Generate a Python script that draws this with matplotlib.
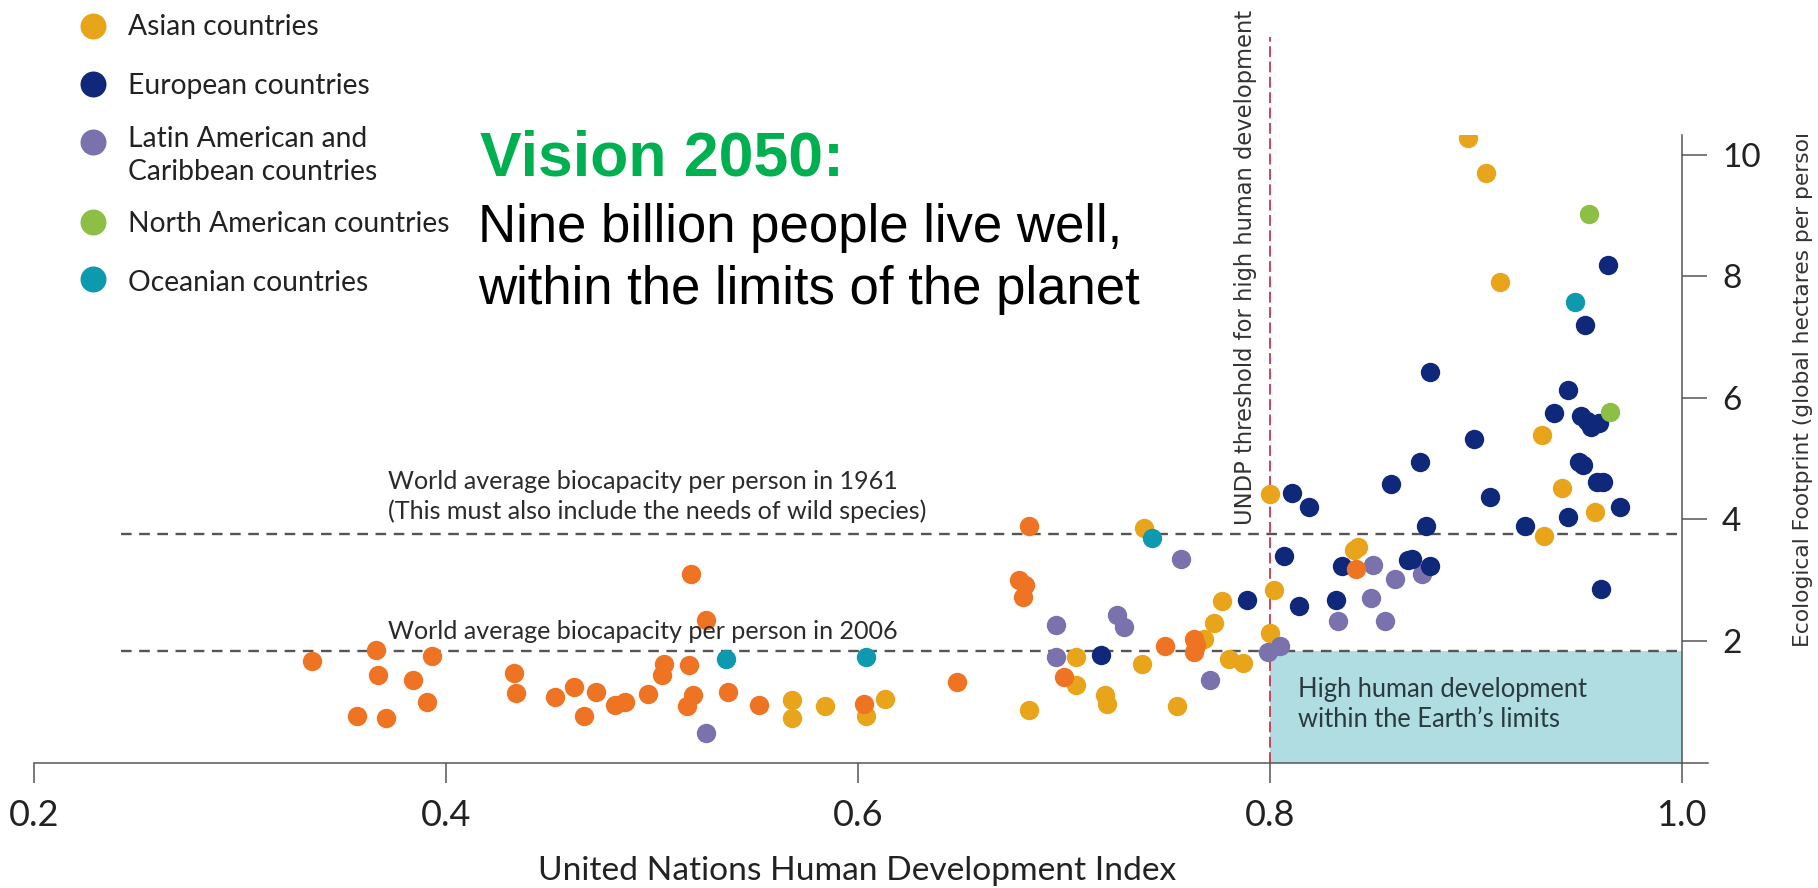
import matplotlib.pyplot as plt
from matplotlib.transforms import Bbox, TransformedBbox

W, H = 1818, 888

# Human Development Index (x) and Ecological Footprint in gha per person (y)
african_hdi = [0.335, 0.357, 0.371, 0.366, 0.367, 0.384, 0.393, 0.391,
               0.433, 0.434, 0.453, 0.462, 0.467, 0.473, 0.482, 0.487,
               0.498, 0.506, 0.505, 0.519, 0.526, 0.518, 0.520, 0.517,
               0.537, 0.552, 0.603, 0.648, 0.683, 0.678, 0.681, 0.680,
               0.700, 0.749, 0.763, 0.764, 0.763, 0.842]
african_fp = [1.67, 0.76, 0.74, 1.85, 1.44, 1.36, 1.75, 0.99,
              1.47, 1.15, 1.08, 1.25, 0.76, 1.16, 0.95, 1.00,
              1.13, 1.62, 1.44, 3.10, 2.34, 1.60, 1.11, 0.93,
              1.16, 0.95, 0.97, 1.33, 3.89, 3.00, 2.92, 2.73,
              1.40, 1.92, 2.03, 1.93, 1.82, 3.18]

asian_hdi = [0.568, 0.568, 0.584, 0.604, 0.613, 0.683, 0.706, 0.706, 0.720, 0.721,
             0.738, 0.739, 0.800, 0.841, 0.843, 0.802, 0.777, 0.773, 0.800, 0.768,
             0.780, 0.787, 0.755, 0.896, 0.905, 0.912, 0.932, 0.942, 0.958, 0.933]
asian_fp = [1.03, 0.74, 0.93, 0.76, 1.04, 0.86, 1.27, 1.73, 1.11, 0.97,
            1.62, 3.85, 4.42, 3.50, 3.55, 2.83, 2.66, 2.29, 2.13, 2.03,
            1.71, 1.64, 0.93, 10.27, 9.69, 7.91, 5.38, 4.51, 4.12, 3.73]

euro_hdi = [0.718, 0.811, 0.819, 0.859, 0.807, 0.835, 0.789, 0.814,
            0.832, 0.867, 0.869, 0.878, 0.876, 0.924, 0.945, 0.970,
            0.907, 0.959, 0.962, 0.950, 0.952, 0.873, 0.899, 0.938,
            0.951, 0.954, 0.956, 0.960, 0.945, 0.878, 0.953, 0.964, 0.961]
euro_fp = [1.76, 4.44, 4.21, 4.58, 3.40, 3.23, 2.67, 2.57,
           2.68, 3.33, 3.34, 3.23, 3.89, 3.89, 4.03, 4.21,
           4.37, 4.62, 4.62, 4.95, 4.89, 4.95, 5.32, 5.75,
           5.70, 5.61, 5.52, 5.58, 6.13, 6.42, 7.20, 8.19, 2.85]

latin_hdi = [0.526, 0.696, 0.696, 0.726, 0.729, 0.757, 0.850, 0.861,
             0.874, 0.849, 0.833, 0.856, 0.799, 0.805, 0.771]
latin_fp = [0.49, 2.26, 1.73, 2.43, 2.23, 3.35, 3.25, 3.01,
            3.10, 2.70, 2.33, 2.33, 1.82, 1.92, 1.35]

namerica_hdi = [0.955, 0.965]
namerica_fp = [9.02, 5.77]

oceania_hdi = [0.536, 0.604, 0.743, 0.948]
oceania_fp = [1.71, 1.74, 3.69, 7.58]

bio_1961 = 3.76
bio_2006 = 1.83
undp_threshold = 0.8

x_ticks = [0.2, 0.4, 0.6, 0.8, 1.0]
y_ticks = [2, 4, 6, 8, 10]

legend_labels = ['Asian countries', 'European countries',
                 'Latin American and\nCaribbean countries',
                 'North American countries', 'Oceanian countries']

c_asia = '#E8A51B'
c_euro = '#10287A'
c_latin = '#7A72AC'
c_namer = '#8DBE45'
c_ocean = '#0E9AAE'
c_africa = '#EE7424'
legend_colors = [c_asia, c_euro, c_latin, c_namer, c_ocean]

plt.rcParams['font.family'] = ['Lato', 'DejaVu Sans']


def px(x, y):
    # pixel position (origin top-left) -> figure fraction
    return x / W, 1 - y / H


fig = plt.figure(figsize=(W / 100, H / 100), dpi=100)
ax = fig.add_axes([34.1 / W, 1 - 762.5 / H, 1674.4 / W, 627.44 / H])
renderer = fig.canvas.get_renderer()


def fit(texts, target, vertical=False):
    bb = texts[0].get_window_extent(renderer)
    size = texts[0].get_fontsize() * target / (bb.height if vertical else bb.width)
    for t in texts:
        t.set_fontsize(size)


# shaded box and reference lines
ax.fill_between([undp_threshold, 1.0], 0, bio_2006, color='#B0DDE2', lw=0, zorder=1)
ax.plot([0.242, 1.0], [bio_1961, bio_1961], color='#555555', lw=1.7,
        ls=(0, (4.5, 3.2)), zorder=2)
ax.plot([0.242, 1.0], [bio_2006, bio_2006], color='#555555', lw=1.7,
        ls=(0, (4.5, 3.2)), zorder=2)
ax.plot([undp_threshold, undp_threshold], [0, 11.93], color='#C8364F', lw=1.3,
        ls=(0, (6, 2.5)), zorder=2, clip_on=False)

# countries
dot = 195
ax.scatter(asian_hdi, asian_fp, s=dot, color=c_asia, lw=0, zorder=3)
ax.scatter(latin_hdi, latin_fp, s=dot, color=c_latin, lw=0, zorder=3)
ax.scatter(euro_hdi, euro_fp, s=dot, color=c_euro, lw=0, zorder=3)
ax.scatter(namerica_hdi, namerica_fp, s=dot, color=c_namer, lw=0, zorder=3)
ax.scatter(oceania_hdi, oceania_fp, s=dot, color=c_ocean, lw=0, zorder=3)
ax.scatter(african_hdi, african_fp, s=dot, color=c_africa, lw=0, zorder=3)

# axes
ax.set_xlim(0.2, 1.013)
ax.set_ylim(0, 10.32)
ax.spines['top'].set_visible(False)
ax.spines['left'].set_visible(False)
ax.spines['right'].set_position(('data', 1.0))
for s in ['bottom', 'right']:
    ax.spines[s].set_color('#555555')
    ax.spines[s].set_linewidth(1.1)
ax.yaxis.tick_right()
ax.set_xticks(x_ticks)
ax.set_xticklabels(['%.1f' % v for v in x_ticks])
ax.set_yticks(y_ticks)
ax.set_yticklabels([str(v) for v in y_ticks])
ax.tick_params(axis='x', length=14.4, width=1.1, color='#555555', pad=12,
               labelsize=26, labelcolor='#222222')
ax.tick_params(axis='y', length=18, width=1.1, color='#555555', pad=11,
               labelsize=24, labelcolor='#222222')
ax.patch.set_alpha(0)

# line annotations
t1 = fig.text(*px(388, 489), 'World average biocapacity per person in 1961',
              va='baseline', color='#2b2b2b', fontsize=18)
t2 = fig.text(*px(388, 519), '(This must also include the needs of wild species)',
              va='baseline', color='#2b2b2b', fontsize=18)
t3 = fig.text(*px(388, 639), 'World average biocapacity per person in 2006',
              va='baseline', color='#2b2b2b', fontsize=18)
fit([t1, t2, t3], 509)

b1 = fig.text(*px(1298, 696.7), 'High human development',
              va='baseline', color='#2a3a40', fontsize=16)
b2 = fig.text(*px(1298, 727.3), 'within the Earth\u2019s limits',
              va='baseline', color='#2a3a40', fontsize=16)
fit([b1, b2], 291)

xl = fig.text(*px(857, 880), 'United Nations Human Development Index',
              ha='center', va='baseline', color='#222222', fontsize=22)
fit([xl], 635)

undp = fig.text(*px(1257, 525), 'UNDP threshold for high human development',
                rotation=90, ha='right', va='bottom', family='DejaVu Sans',
                color='#333333', fontsize=15)
fit([undp], 516, vertical=True)

yl = fig.text(*px(1803, 647), 'Ecological Footprint (global hectares per perso',
              rotation=90, ha='center', va='bottom', family='DejaVu Sans',
              color='#333333', fontsize=14)
fit([yl], 512, vertical=True)
yl.set_text('Ecological Footprint (global hectares per person)')
yl.set_clip_box(TransformedBbox(Bbox([[0.9, 0], [1, 1 - 135 / H]]), fig.transFigure))
yl.set_clip_on(True)

# legend (one text per line so multi-line labels keep their first baseline)
dot_y = [26, 84.3, 142.3, 221.7, 279.3]
text_y = [35, 94.3, 146.7, 232.3, 290.7]
leg_texts = []
for lab, col, dy, ty in zip(legend_labels, legend_colors, dot_y, text_y):
    ax.scatter(*px(92.7, dy), s=350, color=col, lw=0, transform=fig.transFigure,
               clip_on=False)
    for i, line in enumerate(lab.split('\n')):
        leg_texts.append(fig.text(*px(128.3, ty + 33.3 * i), line, va='baseline',
                                  color='#222222', fontsize=20))
north = [t for t in leg_texts if t.get_text() == 'North American countries']
fit(north, 322)
for t in leg_texts:
    t.set_fontsize(north[0].get_fontsize())

# title
fig.text(*px(480, 175), 'Vision 2050:', va='baseline', color='#00B050',
         family='Liberation Sans', weight='bold', fontsize=45)
fig.text(*px(478, 241.7), 'Nine billion people live well,', va='baseline',
         color='black', family='Liberation Sans', fontsize=38)
fig.text(*px(478, 304.3), 'within the limits of the planet', va='baseline',
         color='black', family='Liberation Sans', fontsize=38)

fig.savefig('out.png', dpi=100)
